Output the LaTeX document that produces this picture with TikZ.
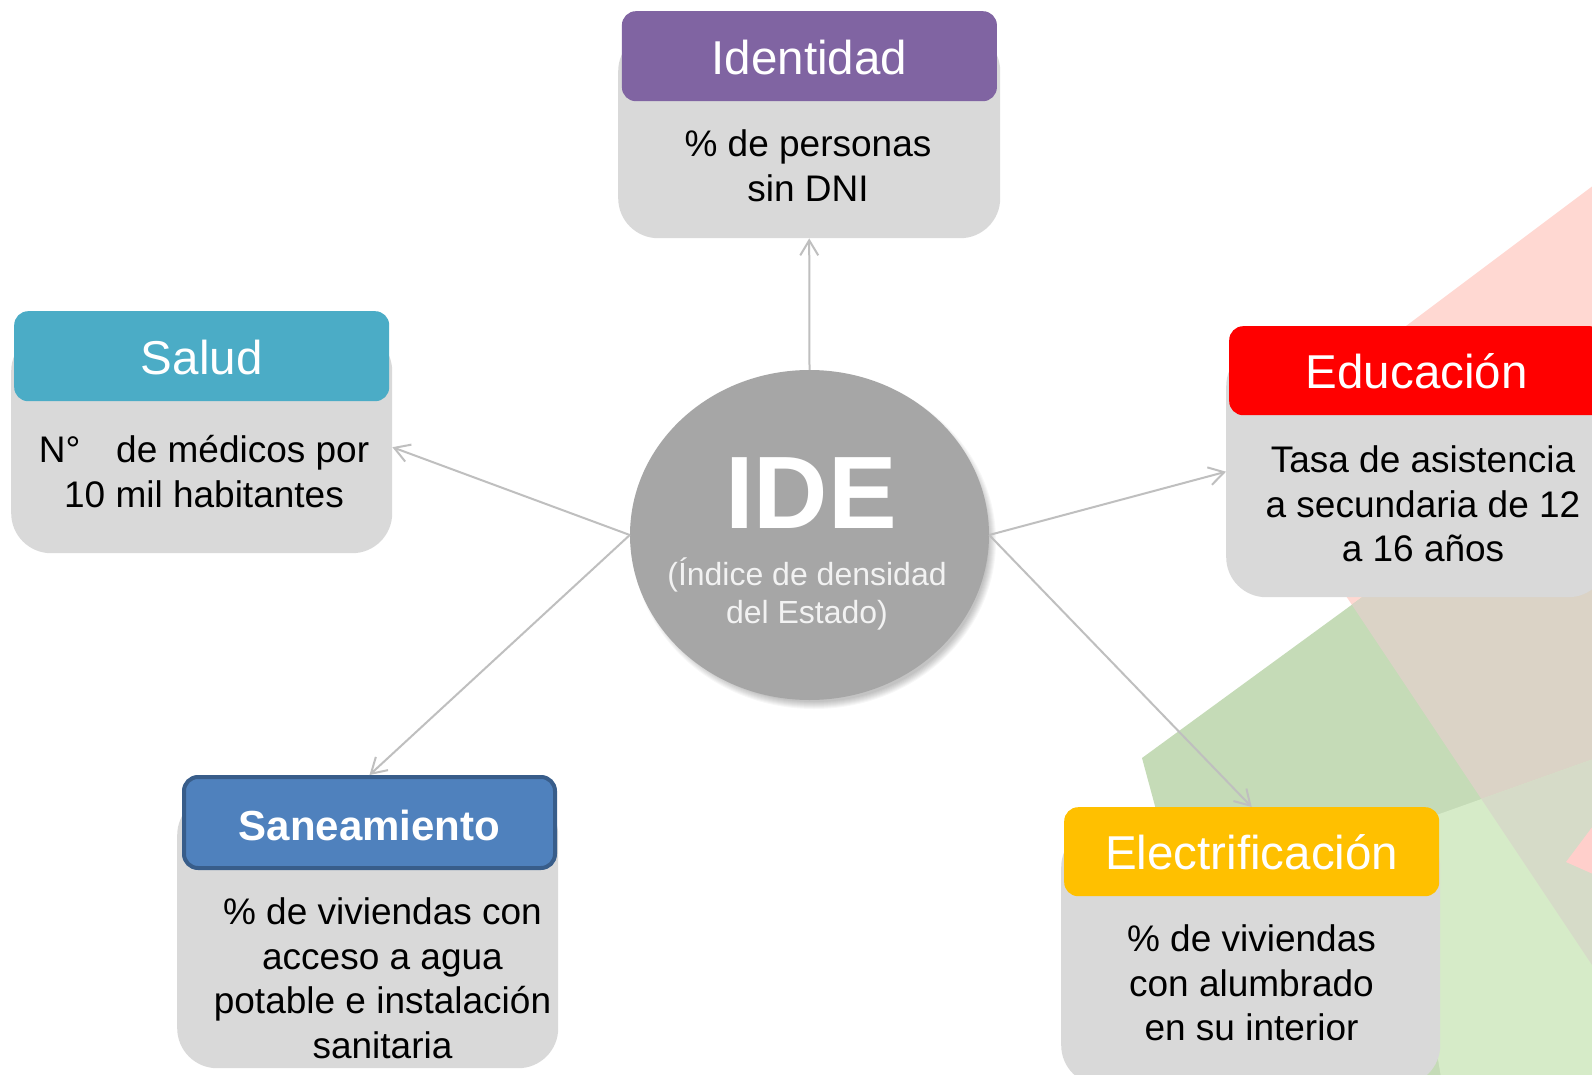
\documentclass[tikz,border=0pt]{standalone}
\usepackage{fontspec}
\setmainfont{Liberation Sans}
\usetikzlibrary{shapes.geometric,arrows.meta,calc}
\definecolor{cIdent}{HTML}{8064A2}
\definecolor{cSalud}{HTML}{4BACC6}
\definecolor{cEduc}{HTML}{FF0000}
\definecolor{cSan}{HTML}{4F81BD}
\definecolor{cSanBorder}{HTML}{385D8A}
\definecolor{cElec}{HTML}{FFC000}
\definecolor{bodygray}{HTML}{D9D9D9}
\definecolor{idegray}{HTML}{A6A6A6}
\definecolor{conngray}{HTML}{BFBFBF}
\definecolor{bgpink}{HTML}{FFD8D2}
\definecolor{bgdgreen}{HTML}{C5DBB7}
\definecolor{bglgreen}{HTML}{D6EBC8}
\definecolor{bgbrown}{HTML}{DBD3C6}
\definecolor{bggreyish}{HTML}{D6DBC8}
\definecolor{bgred}{HTML}{FFCFCB}
\definecolor{subwhite}{HTML}{F2F2F2}
\begin{document}
\begin{tikzpicture}[x=1pt,y=-1pt,
  bodybox/.style={rectangle, rounded corners=40pt, fill=bodygray, inner sep=0pt, anchor=north west},
  headbox/.style={rectangle, rounded corners=14pt, text=white, inner sep=0pt,
    font=\fontsize{47.5}{57}\selectfont, text height=36pt, text depth=0pt, anchor=north west},
  bodytext/.style={align=center, inner sep=0pt, text=black, font=\fontsize{37}{44.5}\selectfont},
  conn/.style={draw=conngray, line width=2pt, -{Straight Barb[length=15pt,width=18pt]}},
  ideshape/.style={ellipse, fill=idegray, inner sep=0pt, minimum width=359pt, minimum height=330pt},
  idetitle/.style={anchor=base, inner sep=0pt, text=white, font=\fontsize{103}{110}\selectfont\bfseries},
  idesub/.style={align=center, inner sep=0pt, text=subwhite, font=\fontsize{32}{38}\selectfont}
]
\useasboundingbox (0,0) rectangle (1592,1075);
\clip (0,0) rectangle (1592,1075);
\fill[white] (0,0) rectangle (1592,1075);

% background shapes
\fill[bgpink] (1246,446) -- (1720,90.5) -- (1720,1157) -- cycle;
\fill[bgdgreen] (1142,758) -- (1420,555) -- (1720,555) -- (1720,1120) -- (1240,1120) -- cycle;
\begin{scope}
  \clip (1142,758) -- (1420,555) -- (1720,555) -- (1720,1120) -- (1240,1120) -- cycle;
  \fill[bgbrown] (1246,446) -- (1720,90.5) -- (1720,1157) -- cycle;
\end{scope}
\fill[bglgreen] (1400,828) -- (1720,714) -- (1720,1120) -- (1448,1120) -- cycle;
\begin{scope}
  \clip (1400,828) -- (1720,714) -- (1720,1120) -- (1448,1120) -- cycle;
  \fill[bggreyish] (1246,446) -- (1720,90.5) -- (1720,1157) -- cycle;
\end{scope}
\fill[bgred] (1566,862) -- (1620,790) -- (1620,886) -- cycle;

% soft shadow of the central circle
\foreach \k in {0,...,7}
  \fill[black,opacity=0.03] (814,541) ellipse [x radius={(175+\k)*1pt}, y radius={(161+\k)*1pt}];

% central node
\node[ideshape] (ide) at (809.5,535) {};
\node[idetitle] (idet) at (811,528) {IDE};
\node[idesub] (ides) at (807,596.4) {\strut(Índice de densidad\\del Estado)\strut};

% Identidad
\node[bodybox, minimum width=382pt, minimum height=207pt] (identbody) at (618,31) {};
\node[headbox, fill=cIdent, minimum width=375pt, minimum height=90pt] (identhead) at (621.7,11) {Identidad};
\node[bodytext] (identtxt) at (808,170.3) {\strut\% de personas\\sin DNI\strut};

% Salud
\node[bodybox, minimum width=381pt, minimum height=222pt] (saludbody) at (11,331) {};
\node[headbox, fill=cSalud, minimum width=375pt, minimum height=90pt] (saludhead) at (14,311) {Salud};
\node[bodytext] (saludtxt) at (204,476) {\strut N°\hspace{0.97em}de médicos por\\10 mil habitantes\strut};

% Educacion
\node[bodybox, minimum width=382pt, minimum height=251pt] (educbody) at (1226,346) {};
\node[headbox, fill=cEduc, minimum width=375pt, minimum height=89pt] (educhead) at (1229,326) {Educación};
\node[bodytext] (eductxt) at (1423,508.4) {\strut Tasa de asistencia\\a secundaria de 12\\a 16 años\strut};

% Electrificacion
\node[bodybox, minimum width=379pt, minimum height=258pt] (elecbody) at (1061,827) {};
\node[headbox, fill=cElec, minimum width=375pt, minimum height=89pt] (elechead) at (1064,807) {Electrificación};
\node[bodytext] (electxt) at (1251.5,987.3) {\strut\% de viviendas\\con alumbrado\\en su interior\strut};

% Saneamiento
\node[bodybox, minimum width=381pt, minimum height=273pt] (sanbody) at (177,795) {};
\node[headbox, anchor=center, fill=cSan, draw=cSanBorder, line width=4pt, minimum width=371pt, minimum height=91pt,
      font=\fontsize{42}{50}\selectfont\bfseries] (sanhead) at (369.5,822.5) {Saneamiento};
\node[bodytext] (santxt) at (382.5,982.6) {\strut\% de viviendas con\\acceso a agua\\potable e instalación\\sanitaria\strut};

% connectors
\draw[conn] (ide.north) -- (identbody.south);
\draw[conn] (ide.west) -- ([yshift=-5pt]saludbody.east);
\draw[conn] (ide.east) -- (educbody.west);
\draw[conn] (ide.west) -- (sanhead.north);
\draw[conn] (ide.east) -- (elechead.north);
\end{tikzpicture}
\end{document}
